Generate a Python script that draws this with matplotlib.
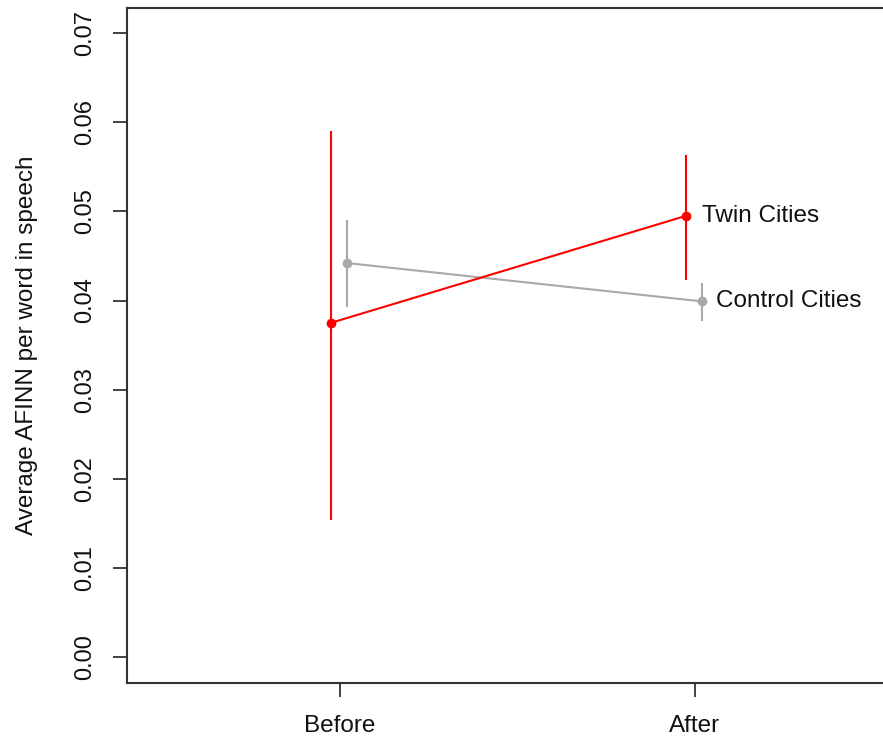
import matplotlib
matplotlib.use("Agg")
import matplotlib.pyplot as plt

plt.rcParams['font.family'] = ['Liberation Sans', 'DejaVu Sans']

# Mean AFINN per word, with interval bounds, before / after
periods = ['Before', 'After']
twin_mean = [0.0375, 0.0495]
twin_lo = [0.0154, 0.0423]
twin_hi = [0.0590, 0.0563]
ctrl_mean = [0.0442, 0.0399]
ctrl_lo = [0.0393, 0.0377]
ctrl_hi = [0.0490, 0.0420]
yticks = [0.00, 0.01, 0.02, 0.03, 0.04, 0.05, 0.06, 0.07]

red = '#FF0000'
grey = '#A9A9A9'

fig = plt.figure(figsize=(8.83, 7.45), dpi=100)
ax = fig.add_axes([0.1438, 0.0832, 0.8845, 0.9060])

x = [1, 2]
x_twin = [v - 0.025 for v in x]
x_ctrl = [v + 0.02 for v in x]

def draw_group(xs, mean, lo, hi, color):
    ax.plot(xs, mean, color=color, linewidth=1.5, zorder=3)
    ax.vlines(xs, lo, hi, color=color, linewidth=1.5, zorder=3)
    ax.plot(xs, mean, 'o', color=color, markersize=6, zorder=4)

draw_group(x_ctrl, ctrl_mean, ctrl_lo, ctrl_hi, grey)
draw_group(x_twin, twin_mean, twin_lo, twin_hi, red)

ax.text(x_twin[1] + 0.045, twin_mean[1], 'Twin Cities', fontsize=17.5,
        ha='left', va='center', color='#111111')
ax.text(x_ctrl[1] + 0.04, ctrl_mean[1], 'Control Cities', fontsize=17.5,
        ha='left', va='center', color='#111111')

ax.set_xlim(0.4, 2.6)
ax.set_ylim(-0.0029, 0.0728)
ax.set_xticks(x)
ax.set_xticklabels(periods, fontsize=17.5, color='#111111')
ax.set_yticks(yticks)
ax.set_yticklabels(['%.2f' % t for t in yticks], fontsize=17, rotation=90,
                   va='center', color='#111111')
ax.set_ylabel('Average AFINN per word in speech', fontsize=17.5, labelpad=26,
              color='#111111')

ax.tick_params(axis='both', direction='out', length=10, width=1.3, color='#333333')
ax.tick_params(axis='y', pad=12)
ax.tick_params(axis='x', pad=13)
for s in ax.spines.values():
    s.set_linewidth(1.5)
    s.set_color('#333333')

fig.savefig('out.png', dpi=100)
